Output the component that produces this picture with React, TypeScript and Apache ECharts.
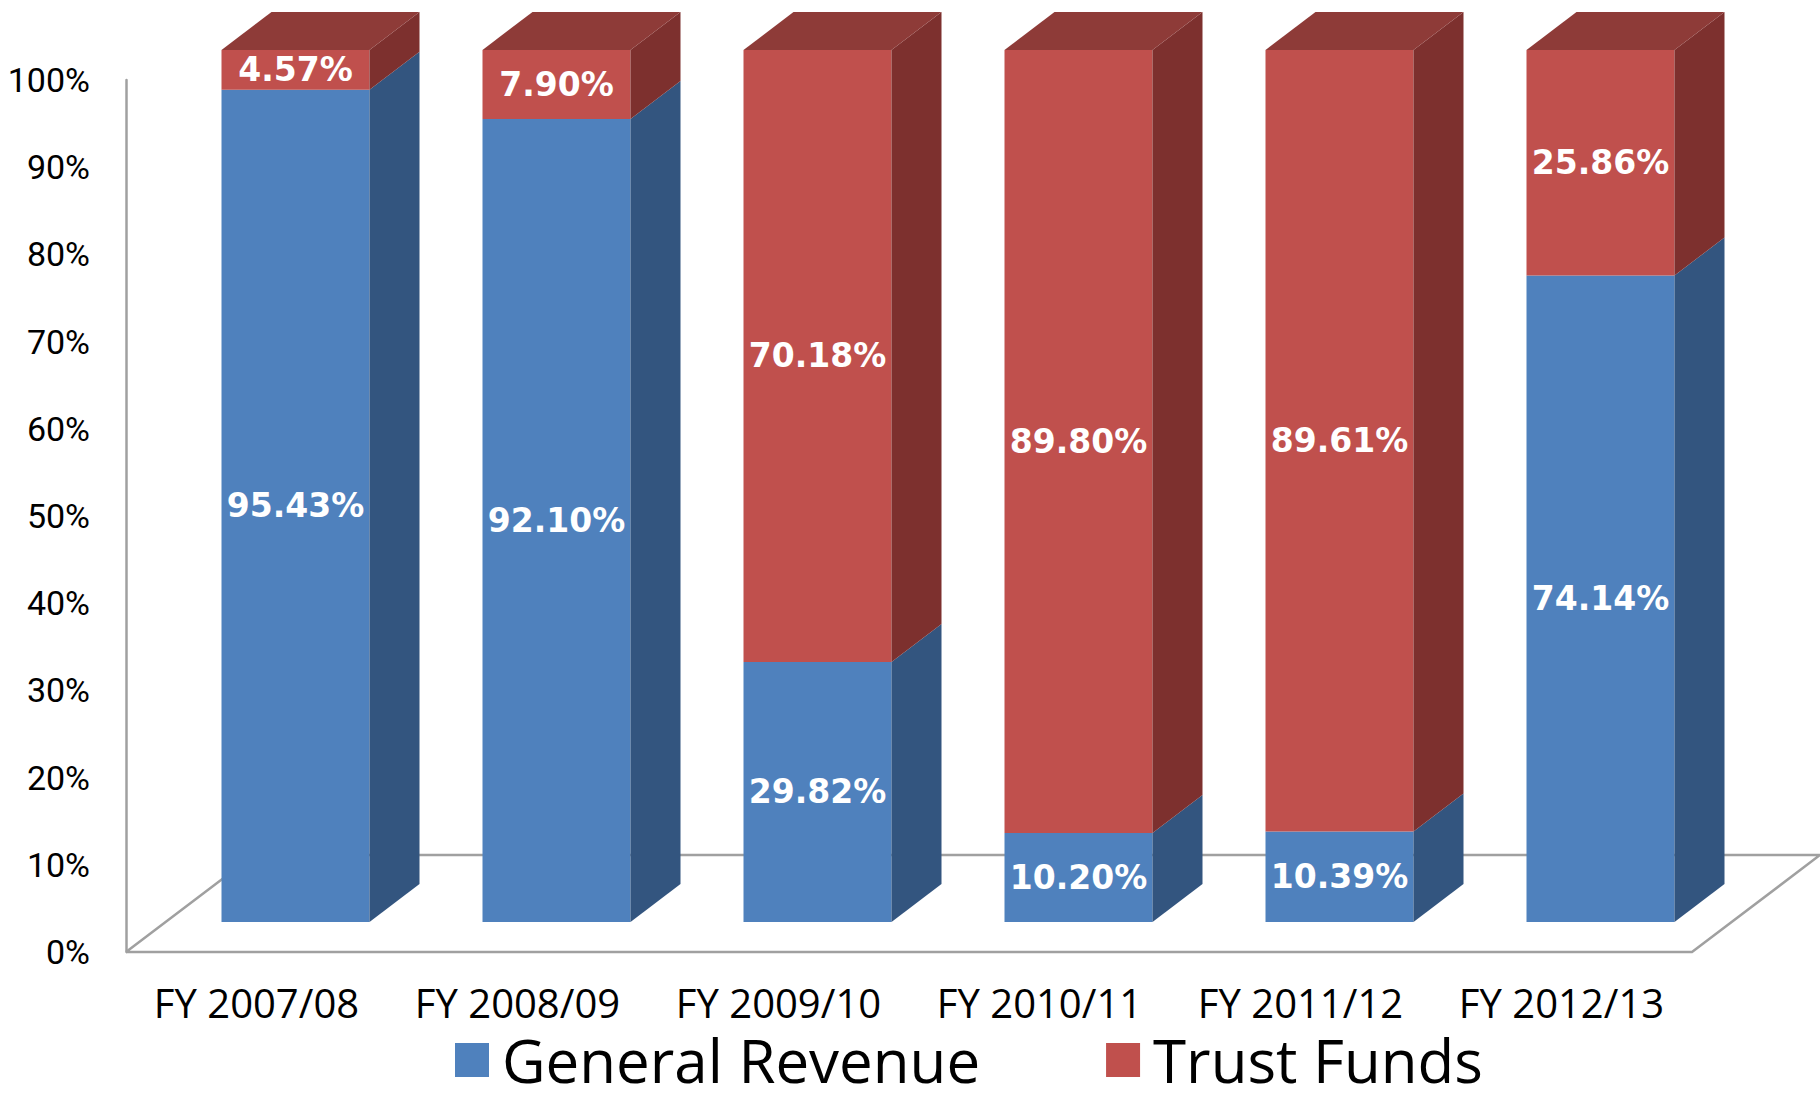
import React, { useEffect, useRef } from "react";
import * as echarts from "echarts";

const categories = ["FY 2007/08", "FY 2008/09", "FY 2009/10", "FY 2010/11", "FY 2011/12", "FY 2012/13"];
const generalRevenue = [95.43, 92.1, 29.82, 10.2, 10.39, 74.14];
const trustFunds = [4.57, 7.9, 70.18, 89.8, 89.61, 25.86];
const seriesNames = ["General Revenue", "Trust Funds"];

const BAR_W = 148;
const SHIFT_X = 39;
const SHIFT_Y = -30;
const DEPTH_X = 50;
const DEPTH_Y = -38;
const FLOOR_DX = 128;
const FLOOR_DY = -97;

const BLUE = { front: "#4F81BD", side: "#33557F", top: "#3F6A9E" };
const RED = { front: "#C0504D", side: "#7D302E", top: "#8E3B38" };

function barRenderer(colors: any, isTop: boolean) {
  return (params: any, api: any) => {
    const i = api.value(0);
    const b = api.value(1);
    const t = api.value(2);
    const pb = api.coord([i, b]);
    const pt = api.coord([i, t]);
    const cx = pb[0] + SHIFT_X;
    const xl = cx - BAR_W / 2;
    const xr = cx + BAR_W / 2;
    const yb = pb[1] + SHIFT_Y;
    const yt = pt[1] + SHIFT_Y;
    const children: any[] = [
      {
        type: "rect",
        shape: { x: xl, y: yt, width: BAR_W, height: yb - yt },
        style: { fill: colors.front },
      },
      {
        type: "polygon",
        shape: {
          points: [
            [xr, yt],
            [xr + DEPTH_X, yt + DEPTH_Y],
            [xr + DEPTH_X, yb + DEPTH_Y],
            [xr, yb],
          ],
        },
        style: { fill: colors.side },
      },
    ];
    if (isTop) {
      children.push({
        type: "polygon",
        shape: {
          points: [
            [xl, yt],
            [xl + DEPTH_X, yt + DEPTH_Y],
            [xr + DEPTH_X, yt + DEPTH_Y],
            [xr, yt],
          ],
        },
        style: { fill: colors.top },
      });
    }
    children.push({
      type: "text",
      x: cx,
      y: (yt + yb) / 2,
      style: {
        text: (t - b).toFixed(2) + "%",
        fill: "#FFFFFF",
        fontSize: 33,
        fontWeight: "bold",
        fontFamily: "DejaVu Sans",
        align: "center",
        verticalAlign: "middle",
      },
    });
    return { type: "group", children };
  };
}

export default function App() {
  const ref = useRef<HTMLDivElement>(null);
  useEffect(() => {
    document.body.style.margin = "0";
    const chart = echarts.init(ref.current!, null, { renderer: "svg" });
    const blueData = generalRevenue.map((v, i) => [i, 0, v]);
    const redData = trustFunds.map((v, i) => [i, generalRevenue[i], generalRevenue[i] + v]);
    chart.setOption({
      animation: false,
      backgroundColor: "#FFFFFF",
      grid: { left: 126, right: 128, top: 80, bottom: 141, containLabel: false },
      legend: {
        data: seriesNames,
        left: 455,
        top: 1029,
        padding: 0,
        icon: "rect",
        itemWidth: 34,
        itemHeight: 34,
        itemGap: 126,
        textStyle: {
          fontSize: 60,
          lineHeight: 62,
          fontFamily: "Open Sans",
          color: "#000000",
          padding: [0, 0, 0, 8],
        },
      },
      xAxis: {
        type: "category",
        data: categories,
        axisLine: { show: false },
        axisTick: { show: false },
        axisLabel: { interval: 0, fontSize: 40, lineHeight: 40, fontFamily: "Open Sans", color: "#000000", margin: 30 },
        splitLine: { show: false },
      },
      yAxis: {
        type: "value",
        min: 0,
        max: 100,
        interval: 10,
        axisLine: { show: true, lineStyle: { color: "#A0A0A0", width: 2.5 } },
        axisTick: { show: false },
        splitLine: { show: false },
        axisLabel: {
          formatter: "{value}%",
          fontSize: 34,
          fontFamily: "'Liberation Sans Narrow', Roboto, sans-serif",
          color: "#000000",
          margin: 36,
        },
      },
      series: [
        {
          type: "custom",
          name: "floor",
          z: 1,
          silent: true,
          data: [[0, 0, 0]],
          encode: { x: 0, y: 1 },
          renderItem: (params: any, api: any) => {
            const bw = api.size([1, 0])[0];
            const p0 = api.coord([0, 0]);
            const p1 = api.coord([categories.length - 1, 0]);
            const fl = p0[0] - bw / 2;
            const fr = p1[0] + bw / 2;
            const y = p0[1];
            return {
              type: "polyline",
              shape: {
                points: [
                  [fl, y],
                  [fr, y],
                  [fr + FLOOR_DX, y + FLOOR_DY],
                  [fl + FLOOR_DX, y + FLOOR_DY],
                  [fl, y],
                ],
              },
              style: { stroke: "#A0A0A0", lineWidth: 2.5, fill: "none" },
            };
          },
        },
        {
          type: "custom",
          name: seriesNames[0],
          z: 2,
          itemStyle: { color: BLUE.front },
          data: blueData,
          encode: { x: 0, y: 2 },
          renderItem: barRenderer(BLUE, false),
        },
        {
          type: "custom",
          name: seriesNames[1],
          z: 2,
          itemStyle: { color: RED.front },
          data: redData,
          encode: { x: 0, y: 2 },
          renderItem: barRenderer(RED, true),
        },
      ],
    });
    return () => chart.dispose();
  }, []);
  return <div ref={ref} style={{ width: 1820, height: 1093 }} />;
}
